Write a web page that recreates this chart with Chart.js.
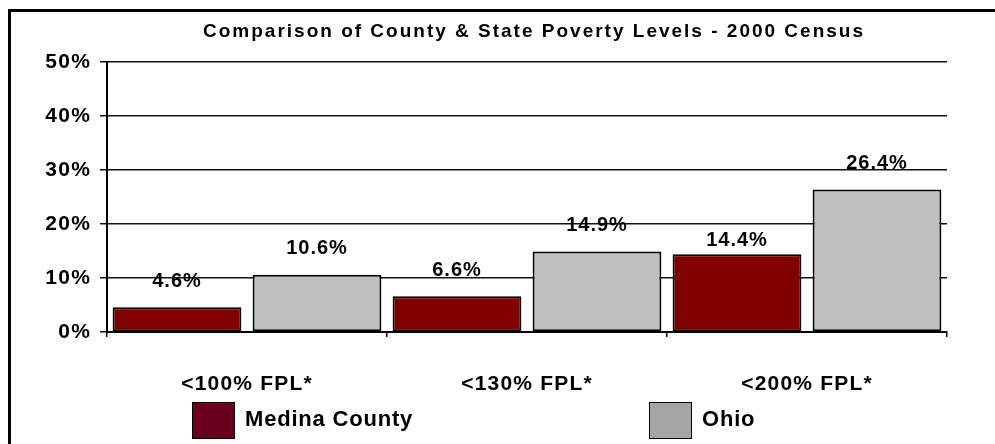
<!DOCTYPE html>
<html lang="en">
<head>
    <meta charset="UTF-8">
    <title>Poverty Levels</title>
    <script src="https://cdn.jsdelivr.net/npm/chart.js"></script>
    <style>
        html, body { margin: 0; padding: 0; background: #fff; }
        .chart-box { width: 995px; height: 444px; }
    </style>
</head>
<body>

<div class="chart-box">
    <canvas id="povChart"></canvas>
</div>

<script>
    const categories = ['<100% FPL*', '<130% FPL*', '<200% FPL*'];
    const medinaValues = [4.6, 6.6, 14.4];
    const ohioValues = [10.6, 14.9, 26.4];
    const seriesNames = ['Medina County', 'Ohio'];
    const yTicks = [0, 10, 20, 30, 40, 50];
    const chartTitle = 'Comparison of County & State Poverty Levels - 2000 Census';

    const barColors = ['#800000', '#c0c0c0'];
    const legendColors = ['#6b001f', '#a6a6a6'];
    const fontFamily = 'Arial, "Liberation Sans", sans-serif';

    // the original text is a bit stretched, so widen all canvas text slightly
    const spacing = {
        id: 'spacing',
        beforeDraw(chart) {
            chart.ctx.letterSpacing = '1.2px';
        }
    };

    // value labels above bars
    const barLabels = {
        id: 'barLabels',
        afterDatasetsDraw(chart) {
            const ctx = chart.ctx;
            ctx.save();
            ctx.letterSpacing = '1px';
            ctx.font = 'bold 20px ' + fontFamily;
            ctx.fillStyle = '#000';
            ctx.textAlign = 'center';
            ctx.textBaseline = 'middle';
            chart.data.datasets.forEach((ds, i) => {
                chart.getDatasetMeta(i).data.forEach((bar, j) => {
                    const off = (i === 0 && j === 2) ? 14 : 26;
                    ctx.fillText(ds.data[j].toFixed(1) + '%', bar.x, bar.y - off);
                });
            });
            ctx.restore();
        }
    };

    // frame, title and legend drawn by hand to match the original layout
    const frameLegend = {
        id: 'frameLegend',
        afterDraw(chart) {
            const ctx = chart.ctx;
            ctx.save();
            ctx.fillStyle = '#000';
            ctx.fillRect(8, 9, 3, 435);
            ctx.fillRect(8, 9, 987, 3);

            ctx.letterSpacing = '2px';
            ctx.font = 'bold 19px ' + fontFamily;
            ctx.textAlign = 'center';
            ctx.textBaseline = 'middle';
            ctx.fillText(chartTitle, 534, 32);

            const spots = [192, 649];
            ctx.letterSpacing = '0.8px';
            ctx.font = 'bold 22px ' + fontFamily;
            ctx.textAlign = 'left';
            seriesNames.forEach((name, i) => {
                ctx.fillStyle = legendColors[i];
                ctx.fillRect(spots[i], 402, 43, 37);
                ctx.strokeStyle = '#000';
                ctx.lineWidth = 1;
                ctx.strokeRect(spots[i] + 0.5, 402.5, 42, 36);
                ctx.fillStyle = '#000';
                ctx.fillText(name, spots[i] + 53, 420);
            });
            ctx.restore();
        }
    };

    new Chart(document.getElementById('povChart'), {
        type: 'bar',
        data: {
            labels: categories,
            datasets: [
                { label: seriesNames[0], data: medinaValues, backgroundColor: barColors[0],
                  borderColor: '#000', borderWidth: 2, borderSkipped: false },
                { label: seriesNames[1], data: ohioValues, backgroundColor: barColors[1],
                  borderColor: '#000', borderWidth: 2, borderSkipped: false }
            ]
        },
        options: {
            responsive: true,
            maintainAspectRatio: false,
            animation: false,
            layout: { padding: { left: 10, right: 48, top: 62, bottom: 0 } },
            datasets: { bar: { categoryPercentage: 1.0, barPercentage: 0.92 } },
            plugins: {
                legend: { display: false },
                tooltip: { enabled: false },
                title: { display: false }
            },
            scales: {
                y: {
                    min: yTicks[0],
                    max: yTicks[yTicks.length - 1],
                    afterBuildTicks(scale) {
                        scale.ticks = yTicks.map(v => ({ value: v }));
                    },
                    afterFit(scale) { scale.width = 97; },
                    ticks: {
                        color: '#000',
                        padding: 9,
                        font: { family: fontFamily, size: 21, weight: 'bold' },
                        callback: v => v + '%'
                    },
                    grid: { color: '#111', lineWidth: 1.5, tickLength: 7 },
                    border: { color: '#000', width: 2 }
                },
                x: {
                    afterFit(scale) { scale.height = 112; },
                    ticks: {
                        color: '#000',
                        padding: 35,
                        font: { family: fontFamily, size: 21, weight: 'bold' }
                    },
                    grid: { drawOnChartArea: false, color: '#000', lineWidth: 1.5, tickLength: 5 },
                    border: { color: '#000', width: 2 }
                }
            }
        },
        plugins: [spacing, barLabels, frameLegend]
    });
</script>

</body>
</html>
